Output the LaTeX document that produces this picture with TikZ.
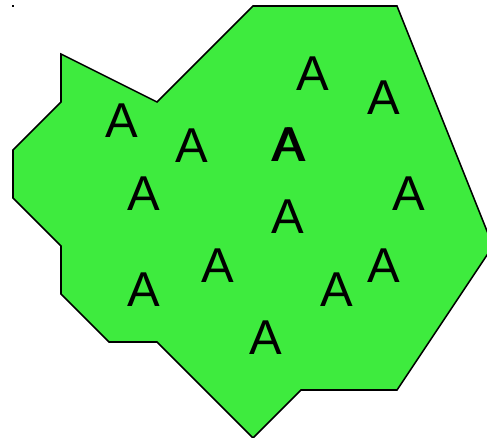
\documentclass[tikz,border=0pt]{standalone}
\usepackage{fontspec}
\setmainfont{Liberation Sans}
\usepackage{xcolor}
\usepackage{tikz}
\definecolor{ink}{HTML}{000000}
\definecolor{lime}{HTML}{3EEB3E}
\tikzset{
  region/.style={draw=ink,fill=lime,line width=0.9pt,line join=miter},
  letter/.style={inner sep=0pt,text=ink,font=\fontsize{29}{29}\selectfont}
}
\begin{document}
\begin{tikzpicture}[x=1cm,y=-1cm]
\useasboundingbox (-0.271,-0.125) rectangle (9.875,9);
\clip (-0.271,-0.125) rectangle (9.875,9);
\fill[ink] (-0.02,-0.02) rectangle (0.02,0.02);

\draw[region] (5,0) -- (8,0) -- (10,5) -- (8,8) -- (6,8) -- (5,9) -- (3,7) -- (2,7)
  -- (1,6) -- (1,5) -- (0,4) -- (0,3) -- (1,2) -- (1,1) -- (3,2) -- cycle;

\node[letter] (a1) at (2.27,2.39) {A};
\node[letter] (a2) at (3.73,2.91) {A};
\node[letter] (a3) at (6.25,1.40) {A};
\node[letter] (a4) at (7.73,1.90) {A};
\node[letter] (a5) at (5.73,2.89) {A};
\node[letter] (a5b) at (5.76,2.89) {A};
\node[letter] (a6) at (2.73,3.92) {A};
\node[letter] (a7) at (5.73,4.39) {A};
\node[letter] (a8) at (8.25,3.92) {A};
\node[letter] (a9) at (4.27,5.40) {A};
\node[letter] (a10) at (2.73,5.92) {A};
\node[letter] (a11) at (7.73,5.40) {A};
\node[letter] (a12) at (6.75,5.92) {A};
\node[letter] (a13) at (5.27,6.91) {A};
\end{tikzpicture}
\end{document}
